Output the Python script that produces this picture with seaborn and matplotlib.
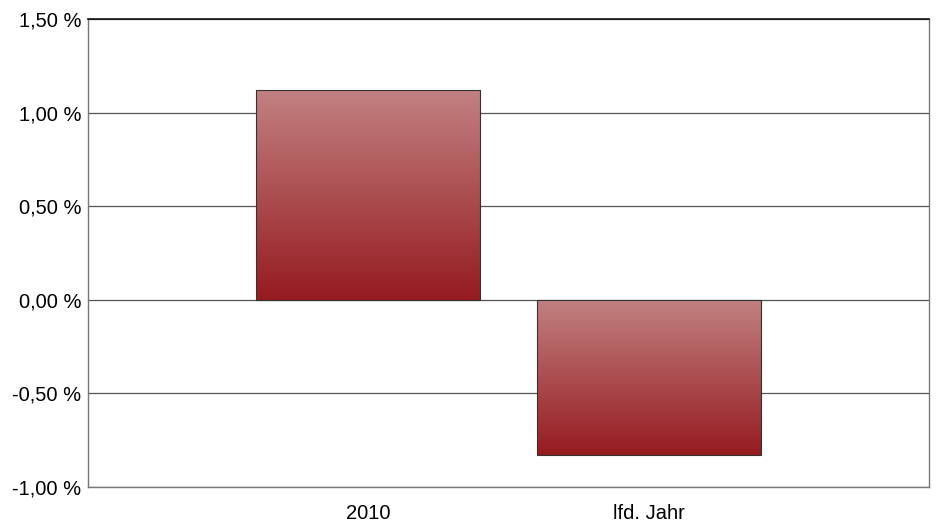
import numpy as np
import pandas as pd
import matplotlib
matplotlib.use("Agg")
import matplotlib.pyplot as plt
from matplotlib.colors import LinearSegmentedColormap
from matplotlib.ticker import FuncFormatter
import seaborn as sns

categories = ["2010", "lfd. Jahr"]
values = [1.12, -0.83]

sns.set_style("white")
plt.rcParams['font.family'] = ['Liberation Sans', 'DejaVu Sans']

df = pd.DataFrame({"period": categories, "value": values})

fig = plt.figure(figsize=(9.4, 5.22), dpi=100)
ax = fig.add_axes([88 / 940, 1 - 487 / 522, (929 - 88) / 940, (487 - 19) / 522])

sns.barplot(data=df, x="period", y="value", color="#a04040", width=0.8,
            edgecolor="#333333", linewidth=0.8, ax=ax, zorder=3)

ax.set_xlim(-1, 2)
ax.set_ylim(-1.0, 1.5)
ax.set_yticks(np.arange(-1.0, 1.51, 0.5))
ax.yaxis.set_major_formatter(FuncFormatter(lambda v, p: "{:.2f} %".format(v).replace(".", ",")))
ax.grid(axis="y", color="#555555", linewidth=0.9, zorder=0)
ax.set_xlabel("")
ax.set_ylabel("")

# gradient fill, light at top, dark at bottom
cmap = LinearSegmentedColormap.from_list("redgrad", ["#c28181", "#951b20"])
grad = np.linspace(0, 1, 256).reshape(-1, 1)
for bar in ax.patches:
    x0, y0 = bar.get_x(), bar.get_y()
    w, h = bar.get_width(), bar.get_height()
    bottom, top = min(y0, y0 + h), max(y0, y0 + h)
    bar.set_facecolor("none")
    im = ax.imshow(grad, cmap=cmap, aspect="auto", extent=[x0, x0 + w, bottom, top],
                   origin="upper", zorder=2.5)
    im.set_clip_path(bar)
ax.set_xlim(-1, 2)
ax.set_ylim(-1.0, 1.5)

for side in ["left", "right", "bottom"]:
    ax.spines[side].set_color("#777777")
    ax.spines[side].set_linewidth(1.0)
ax.spines["top"].set_color("#111111")
ax.spines["top"].set_linewidth(1.2)

ax.tick_params(axis="y", length=0, labelsize=14.5, pad=5, colors="#000000")
ax.tick_params(axis="x", length=5, width=0.8, color="#666666", labelcolor="#000000",
               labelsize=14.5, pad=7)

fig.savefig("out.png", dpi=100)
